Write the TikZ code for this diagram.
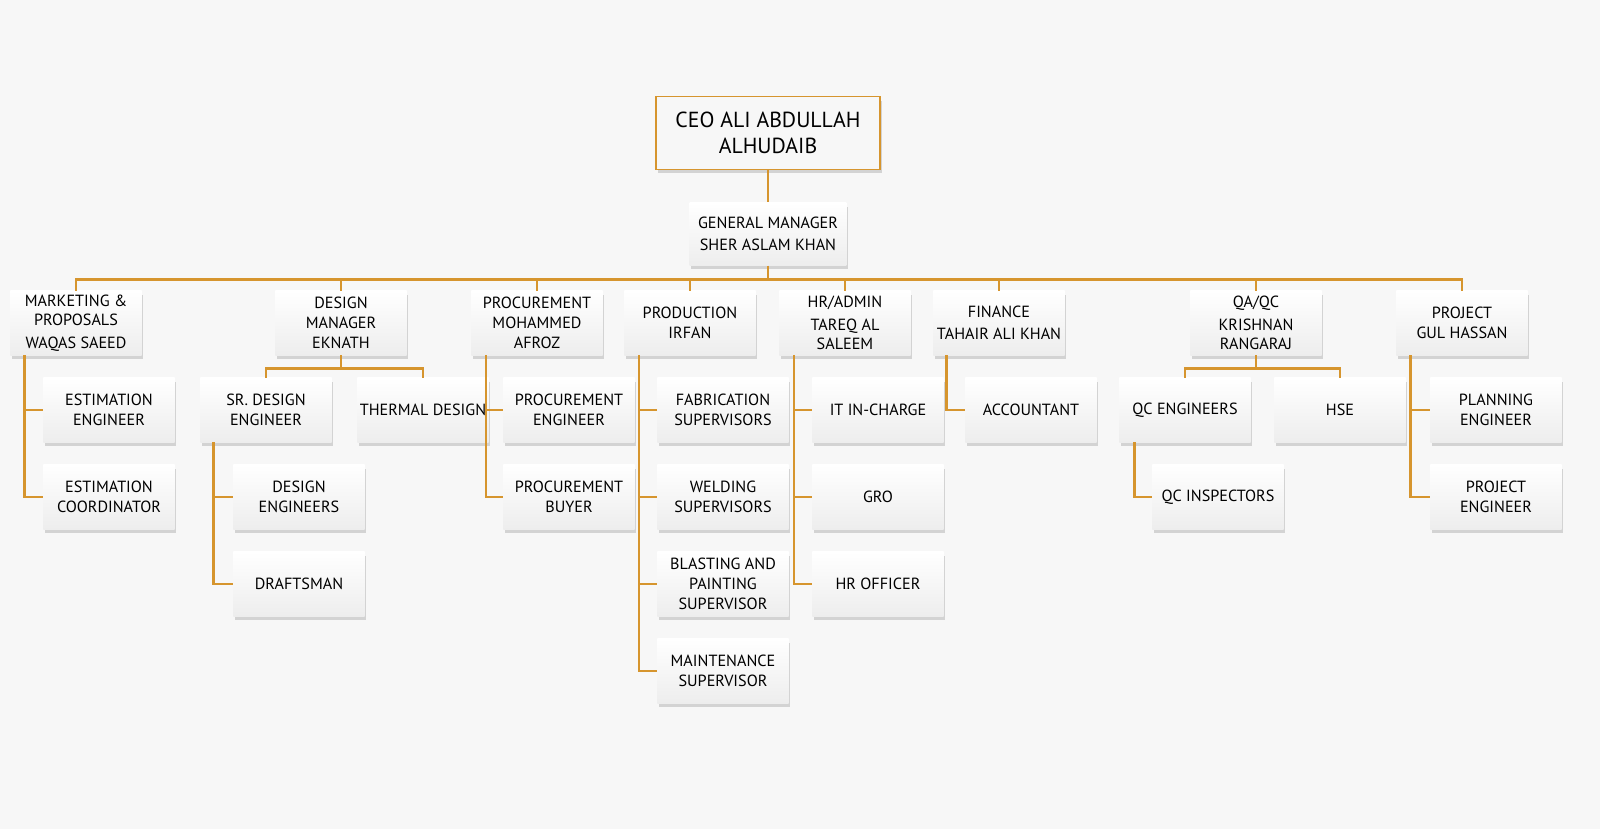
\documentclass[tikz,border=0pt]{standalone}
\usepackage{fontspec}
\setmainfont{PT Sans}
\usetikzlibrary{shadows}
\definecolor{ln}{HTML}{D6952E}
\definecolor{bg}{HTML}{F7F7F7}
\tikzset{
  box/.style={align=center, minimum width=3.28cm, minimum height=1.6cm, inner sep=1pt,
    top color=white, bottom color=gray!14, font=\fontsize{11.5}{14}\selectfont,
    drop shadow={opacity=0.3, shadow xshift=0.04cm, shadow yshift=-0.1cm}},
  con/.style={draw=ln, line width=2pt}
}

\begin{document}
\begin{tikzpicture}[x=0.025cm, y=-0.025cm]
  \useasboundingbox (0,0) rectangle (1600,829);
  \fill[bg] (0,0) rectangle (1600,829);
  \node[box, draw=ln, line width=0.8pt, top color=bg, bottom color=bg, minimum width=5.6cm, minimum height=1.82cm, font=\fontsize{15.5}{18.5}\selectfont] (ceo) at (768,133) {CEO ALI ABDULLAH\\ALHUDAIB};
  \node[box, minimum width=3.92cm, minimum height=1.57cm] (gm) at (768,234) {GENERAL MANAGER\\[2pt]SHER ASLAM KHAN};

  \node[box] (mkt) at (76,323) {MARKETING \&\\PROPOSALS\\[2pt]WAQAS SAEED};
  \node[box] (des) at (341,323) {DESIGN\\MANAGER\\EKNATH};
  \node[box] (prc) at (537,323) {PROCUREMENT\\MOHAMMED\\AFROZ};
  \node[box] (prd) at (690,323) {PRODUCTION\\IRFAN};
  \node[box] (hr) at (845,323) {HR/ADMIN\\[2pt]TAREQ AL\\SALEEM};
  \node[box] (fin) at (999,323) {FINANCE\\[2pt]TAHAIR ALI KHAN};
  \node[box] (qa) at (1256,323) {QA/QC\\[2pt]KRISHNAN\\RANGARAJ};
  \node[box] (prj) at (1462,323) {PROJECT\\GUL HASSAN};

  \node[box] (ee) at (109,410) {ESTIMATION\\ENGINEER};
  \node[box] (ec) at (109,497) {ESTIMATION\\COORDINATOR};
  \node[box] (sde) at (266,410) {SR. DESIGN\\ENGINEER};
  \node[box] (td) at (423,410) {THERMAL DESIGN};
  \node[box] (de) at (299,497) {DESIGN\\ENGINEERS};
  \node[box] (dr) at (299,584) {DRAFTSMAN};
  \node[box] (pe) at (569,410) {PROCUREMENT\\ENGINEER};
  \node[box] (pb) at (569,497) {PROCUREMENT\\BUYER};
  \node[box] (fab) at (723,410) {FABRICATION\\SUPERVISORS};
  \node[box] (wel) at (723,497) {WELDING\\SUPERVISORS};
  \node[box] (bla) at (723,584) {BLASTING AND\\PAINTING\\SUPERVISOR};
  \node[box] (mai) at (723,671) {MAINTENANCE\\SUPERVISOR};
  \node[box] (it) at (878,410) {IT IN-CHARGE};
  \node[box] (gro) at (878,497) {GRO};
  \node[box] (hro) at (878,584) {HR OFFICER};
  \node[box] (acc) at (1031,410) {ACCOUNTANT};
  \node[box] (qce) at (1185,410) {QC ENGINEERS};
  \node[box] (hse) at (1340,410) {HSE};
  \node[box] (qci) at (1218,497) {QC INSPECTORS};
  \node[box] (pln) at (1496,410) {PLANNING\\ENGINEER};
  \node[box] (pje) at (1496,497) {PROJECT\\ENGINEER};

  % main tree
  \draw[con] (ceo) -- (gm);
  \draw[con] (gm.south) -- ++(0,14);
  \draw[con] (mkt.north) -- ++(0,-11) -| (prj.north);
  \foreach \n in {des,prc,prd,hr,fin,qa}
    \draw[con] (\n.north) -- ++(0,-11);
  % side trunks
  \draw[con] ([xshift=0.35cm]mkt.south west) |- (ee.west);
  \draw[con] ([xshift=0.35cm]mkt.south west) |- (ec.west);
  \draw[con] ([xshift=0.33cm]sde.south west) |- (de.west);
  \draw[con] ([xshift=0.33cm]sde.south west) |- (dr.west);
  \draw[con] ([xshift=0.37cm]prc.south west) |- (pe.west);
  \draw[con] ([xshift=0.37cm]prc.south west) |- (pb.west);
  \foreach \n in {fab,wel,bla,mai}
    \draw[con] ([xshift=0.37cm]prd.south west) |- (\n.west);
  \foreach \n in {it,gro,hro}
    \draw[con] ([xshift=0.37cm]hr.south west) |- (\n.west);
  \draw[con] ([xshift=0.33cm]fin.south west) |- (acc.west);
  \draw[con] ([xshift=0.38cm]qce.south west) |- (qci.west);
  \draw[con] ([xshift=0.35cm]prj.south west) |- (pln.west);
  \draw[con] ([xshift=0.35cm]prj.south west) |- (pje.west);
  % forks
  \draw[con] (des.south) -- ++(0,13) -| (sde.north);
  \draw[con] (des.south) ++(0,13) -| (td.north);
  \draw[con] (qa.south) -- ++(0,13) -| (qce.north);
  \draw[con] (qa.south) ++(0,13) -| (hse.north);
\end{tikzpicture}
\end{document}
